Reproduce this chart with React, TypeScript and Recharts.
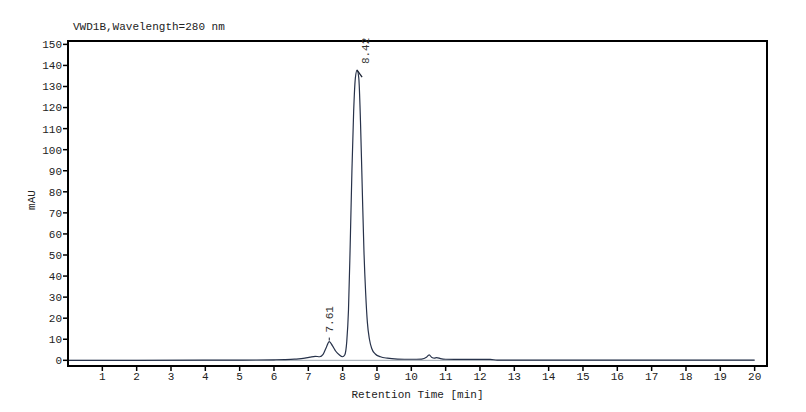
import {
  LineChart,
  Line,
  XAxis,
  YAxis,
  ReferenceLine,
  ReferenceArea,
  LabelList,
} from "recharts";

// retention time [min] and signal [mAU]
const times = [
  0, 2, 4, 5, 5.5, 6, 6.3, 6.6, 6.9, 7.05, 7.2, 7.33, 7.43, 7.52, 7.61, 7.7,
  7.8, 7.9, 8.0, 8.06, 8.12, 8.17, 8.22, 8.27, 8.32, 8.37, 8.42, 8.47, 8.52,
  8.57, 8.62, 8.67, 8.72, 8.78, 8.85, 8.95, 9.1, 9.3, 9.6, 10.0, 10.3, 10.44,
  10.52, 10.6, 10.67, 10.74, 10.85, 11.0, 11.5, 12.0, 12.3, 12.5, 13, 15, 17,
  20,
];
const mau = [
  0, 0, 0.05, 0.1, 0.15, 0.25, 0.35, 0.55, 1.0, 1.5, 1.9, 1.7, 2.8, 6.0, 8.9,
  7.0, 4.3, 2.6, 1.7, 2.5, 9, 24, 55, 90, 118, 134, 137.8, 134, 113, 82, 52,
  32, 18, 10, 5.5, 3, 1.7, 1.0, 0.6, 0.5, 0.6, 1.4, 2.6, 1.3, 1.0, 1.3, 0.8,
  0.5, 0.4, 0.45, 0.45, 0.1, 0.05, 0.05, 0.05, 0.05,
];

const peakTimes = [7.61, 8.42];
const peakNames = ["7.61", "8.42"];

const xTicks = [1, 2, 3, 4, 5, 6, 7, 8, 9, 10, 11, 12, 13, 14, 15, 16, 17, 18, 19, 20];
const yTicks = [0, 10, 20, 30, 40, 50, 60, 70, 80, 90, 100, 110, 120, 130, 140, 150];

const X_MAX = 20.36;
const Y_MIN = -2.7;
const Y_MAX = 151.6;

const FONT = "'Liberation Mono', monospace";

const data = times.map((t, i) => {
  const p = peakTimes.indexOf(t);
  return { t, mau: mau[i], peak: p >= 0 ? peakNames[p] : undefined };
});

const PeakLabel = (props: any) => {
  const { x, y, value } = props;
  if (!value) return null;
  // the tall peak gets its label beside the apex with a small tick
  const tall = y < 120;
  const tx = tall ? x + 11.5 : x + 3.5;
  const ty = tall ? y - 6 : y - 9;
  return (
    <g>
      {tall ? (
        <line x1={x} y1={y} x2={x + 5} y2={y + 7} stroke="#1b2233" strokeWidth={1.3} />
      ) : (
        <line x1={x} y1={y - 1} x2={x} y2={y - 4} stroke="#1b2233" strokeWidth={1} />
      )}
      <text
        x={tx}
        y={ty}
        transform={`rotate(-90 ${tx} ${ty})`}
        textAnchor="start"
        fontFamily={FONT}
        fontSize={11}
        fill="#333"
      >
        {value}
      </text>
    </g>
  );
};

export default function App() {
  return (
    <div style={{ position: "relative", width: 790, height: 396 }}>
      <div
        style={{
          position: "absolute",
          left: 65,
          top: 13,
          fontFamily: FONT,
          fontSize: 11,
          lineHeight: "12px",
          color: "#222",
          whiteSpace: "pre",
        }}
      >
        VWD1B,Wavelength=280 nm
      </div>
      <div
        style={{
          position: "absolute",
          left: 23.5,
          top: 192,
          transform: "translate(-50%, -50%) rotate(-90deg)",
          fontFamily: FONT,
          fontSize: 11,
          color: "#222",
          whiteSpace: "pre",
        }}
      >
        mAU
      </div>
      <div
        style={{
          position: "absolute",
          left: 409.5,
          top: 386.5,
          transform: "translate(-50%, -50%)",
          fontFamily: FONT,
          fontSize: 11,
          color: "#222",
          whiteSpace: "pre",
        }}
      >
        Retention Time [min]
      </div>
      <LineChart
        width={790}
        height={396}
        data={data}
        margin={{ top: 33, right: 31, bottom: 8, left: 20 }}
      >
        <XAxis
          dataKey="t"
          type="number"
          domain={[0, X_MAX]}
          ticks={xTicks}
          allowDataOverflow
          height={30}
          axisLine={{ stroke: "#000", strokeWidth: 2 }}
          tickLine={{ stroke: "#000", strokeWidth: 1.5 }}
          tickSize={5}
          tickMargin={1}
          tick={{ fontFamily: FONT, fontSize: 11, fill: "#222" }}
          interval={0}
        />
        <YAxis
          type="number"
          domain={[Y_MIN, Y_MAX]}
          ticks={yTicks}
          allowDataOverflow
          width={40}
          axisLine={{ stroke: "#000", strokeWidth: 2 }}
          tickLine={{ stroke: "#000", strokeWidth: 1.5 }}
          tickSize={5}
          tickMargin={1}
          tick={{ fontFamily: FONT, fontSize: 11, fill: "#222" }}
          interval={0}
        />
        <ReferenceArea
          x1={0}
          x2={X_MAX}
          y1={Y_MIN}
          y2={Y_MAX}
          fill="none"
          fillOpacity={0}
          stroke="#000"
          strokeWidth={2}
        />
        <ReferenceLine
          segment={[
            { x: 0, y: 0 },
            { x: 20, y: 0 },
          ]}
          stroke="#9aa3ad"
          strokeWidth={1}
        />
        <Line
          type="monotone"
          dataKey="mau"
          stroke="#27324a"
          strokeWidth={1.2}
          dot={false}
          isAnimationActive={false}
        >
          <LabelList dataKey="peak" content={PeakLabel} />
        </Line>
      </LineChart>
    </div>
  );
}
